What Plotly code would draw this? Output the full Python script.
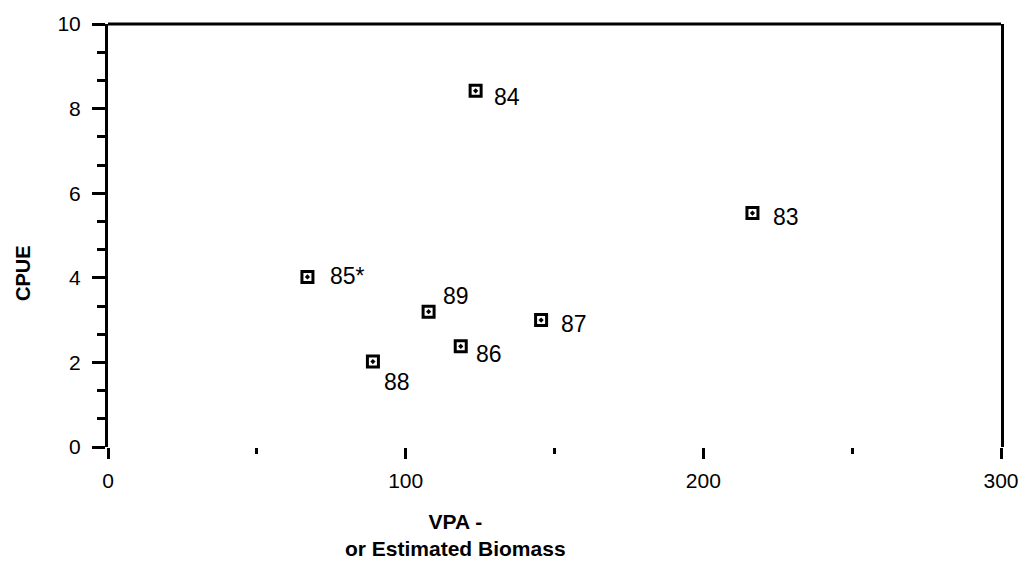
import plotly.graph_objects as go

# data
years = ["83", "84", "85*", "86", "87", "88", "89"]
vpa_biomass = [216.5, 123.5, 67.0, 118.5, 145.5, 89.0, 107.7]
cpue = [5.53, 8.42, 4.02, 2.38, 3.0, 2.02, 3.2]

x_tickvals = [0, 100, 200, 300]
x_ticklabels = ["0", "100", "200", "300"]
y_tickvals = [0, 2, 4, 6, 8, 10]
y_ticklabels = ["0", "2", "4", "6", "8", "10"]

# label placement (pixel offsets of each year label from its marker)
label_shift = {
    "83": (19, -4), "84": (16, -6), "85*": (21, 1), "86": (13, -8),
    "87": (18, -4), "88": (9, -20), "89": (12, 16),
}

FONT = "Liberation Sans, Arial, Helvetica, sans-serif"
LW = 3

fig = go.Figure()
fig.add_trace(go.Scatter(
    x=vpa_biomass, y=cpue, mode="markers",
    marker=dict(symbol="square-open-dot", size=11, color="black",
                line=dict(width=3, color="black")),
    hoverinfo="skip", showlegend=False,
))

for yr, xv, yv in zip(years, vpa_biomass, cpue):
    dx, dy = label_shift[yr]
    fig.add_annotation(x=xv, y=yv, text=yr, showarrow=False,
                       xanchor="left", yanchor="middle", xshift=dx, yshift=dy,
                       font=dict(family=FONT, size=23, color="black"))

fig.update_layout(
    width=1031, height=565,
    margin=dict(l=108, r=26, t=22, b=118),
    paper_bgcolor="white", plot_bgcolor="white",
    font=dict(family=FONT, color="black"),
    xaxis=dict(range=[0, 300], tickvals=x_tickvals, ticktext=x_ticklabels,
               showline=False, showgrid=False, zeroline=False,
               ticks="outside", ticklen=11, tickwidth=LW, tickcolor="black",
               ticklabelstandoff=4,
               tickfont=dict(family=FONT, size=21, color="black"),
               minor=dict(dtick=50, tick0=0, ticks="outside", ticklen=6,
                          tickwidth=LW, tickcolor="black", showgrid=False)),
    yaxis=dict(range=[0, 10], tickvals=y_tickvals, ticktext=y_ticklabels,
               showline=True, linewidth=LW, linecolor="black", mirror=True,
               showgrid=False, zeroline=False,
               ticks="outside", ticklen=13, tickwidth=LW, tickcolor="black",
               ticklabelstandoff=7,
               tickfont=dict(family=FONT, size=21, color="black"),
               minor=dict(dtick=2/3, tick0=0, ticks="outside", ticklen=8,
                          tickwidth=LW, tickcolor="black", showgrid=False)),
)

# top border of the frame
fig.add_shape(type="line", xref="paper", yref="paper", x0=0, x1=1, y0=1, y1=1,
              line=dict(color="black", width=LW))

# axis titles
fig.add_annotation(xref="paper", yref="paper", x=0.389, y=-0.208,
                   text="<b>VPA -</b><br><b>or Estimated Biomass</b>",
                   showarrow=False, xanchor="center", yanchor="middle",
                   font=dict(family=FONT, size=21, color="black"))
fig.add_annotation(xref="paper", yref="paper", x=-0.096, y=0.412,
                   text="<b>CPUE</b>", textangle=-90, showarrow=False,
                   xanchor="center", yanchor="middle",
                   font=dict(family=FONT, size=20, color="black"))

fig.write_html("out.html")
